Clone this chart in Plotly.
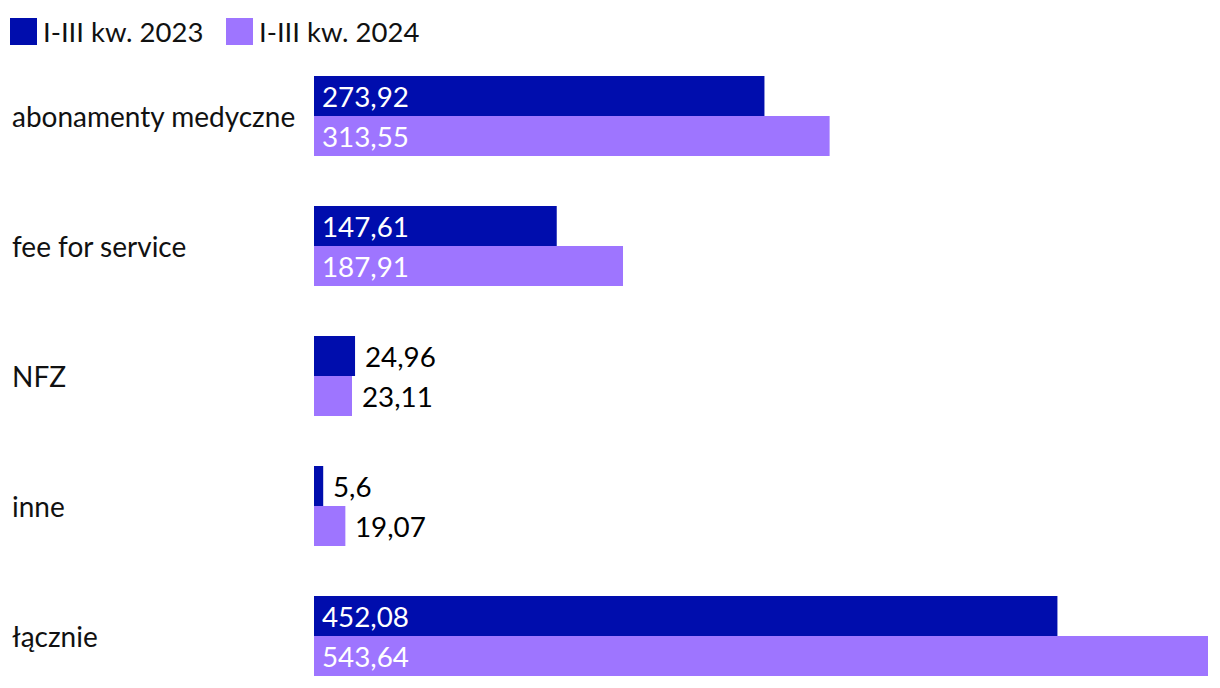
import plotly.graph_objects as go

categories = ["abonamenty medyczne", "fee for service", "NFZ", "inne", "łącznie"]
series_names = ["I-III kw. 2023", "I-III kw. 2024"]
values_2023 = [273.92, 147.61, 24.96, 5.6, 452.08]
values_2024 = [313.55, 187.91, 23.11, 19.07, 543.64]

colors = ["#000DAD", "#9E75FF"]
FONT = "Lato"

def fmt(v):
    s = f"{v:.2f}".rstrip("0").rstrip(".")
    return s.replace(".", ",")

# page body has an 8px margin, so the figure is offset by 8px
FW, FH = 1212, 680
ML, MR, MT, MB = 306, 12, 43, 0
W = FW - ML - MR
H = FH - MT - MB

fig = go.Figure()
for name, vals, col in zip(series_names, [values_2023, values_2024], colors):
    fig.add_trace(go.Bar(
        y=categories, x=vals, name=name, orientation="h",
        marker=dict(color=col, line=dict(width=0)),
        showlegend=False, hoverinfo="skip",
    ))

annotations = []
for si, vals in enumerate([values_2023, values_2024]):
    ysh = 20 if si == 0 else -20
    for cat, v in zip(categories, vals):
        inside = v > 100
        annotations.append(dict(
            x=0 if inside else v, y=cat, xref="x", yref="y",
            text=fmt(v), showarrow=False, xanchor="left", yanchor="middle",
            xshift=6 if inside else 8, yshift=ysh,
            font=dict(family=FONT, size=27.8, color="white" if inside else "black"),
        ))

# category labels
for cat in categories:
    annotations.append(dict(
        x=(2 - ML) / W, y=cat, xref="paper", yref="y", text=cat,
        showarrow=False, xanchor="left", yanchor="middle",
        font=dict(family=FONT, size=28, color="#111111"),
    ))

# custom legend
shapes = []
leg_x = [2, 218]
for name, col, lx in zip(series_names, colors, leg_x):
    shapes.append(dict(type="rect", xref="paper", yref="paper",
                       x0=(lx - ML) / W, x1=(lx + 27 - ML) / W,
                       y0=1 + (MT - 10) / H, y1=1 + (MT - 37) / H,
                       fillcolor=col, line=dict(width=0)))
    annotations.append(dict(
        x=(lx + 31 - ML) / W, y=1 + (MT - 24) / H, xref="paper", yref="paper",
        text=name, showarrow=False, xanchor="left", yanchor="middle",
        font=dict(family=FONT, size=27.5, color="#111111"),
    ))

fig.update_layout(
    width=FW, height=FH,
    margin=dict(l=ML, r=MR, t=MT, b=MB, pad=0),
    barmode="group", bargap=50/130, bargroupgap=0,
    plot_bgcolor="white", paper_bgcolor="white",
    xaxis=dict(range=[0, 543.64], visible=False, fixedrange=True),
    yaxis=dict(categoryorder="array", categoryarray=categories,
               range=[4.4, -0.5], showticklabels=False, showgrid=False,
               zeroline=False, showline=False, ticks=""),
    annotations=annotations, shapes=shapes,
    font=dict(family=FONT),
)

fig.write_html("out.html")
